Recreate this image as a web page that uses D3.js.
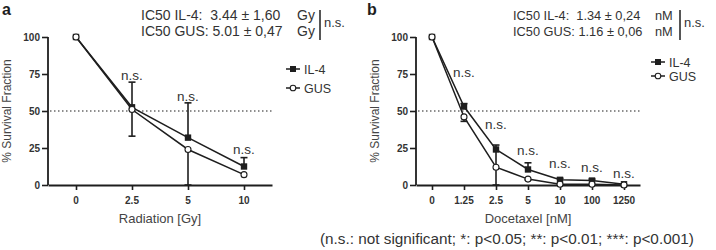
<!DOCTYPE html>
<html><head><meta charset="utf-8">
<script src="https://cdn.jsdelivr.net/npm/d3@7"></script>
<style>body{margin:0;background:#fff}svg{display:block;font-family:"Liberation Sans",Arial,sans-serif}</style>
</head><body><svg id="c" width="716" height="250"></svg>
<script>
// Panel a: radiation
const radLabels = ["0", "2.5", "5", "10"];
const radIL4 = [100, 52.5, 32, 12.5];
const radIL4Up = [0, 17, 23.5, 6];
const radIL4Down = [0, 0, 0, 0];
const radGUS = [100, 51, 24, 7];
const radGUSDown = [0, 18, 24, 0];
const radSig = ["", "n.s.", "n.s.", "n.s."];
const radSigLevel = [0, 71, 57, 21];
const radIC50 = [["IC50 IL-4:  3.44 ± 1,60", "Gy"], ["IC50 GUS: 5.01 ± 0,47", "Gy"]];

// Panel b: docetaxel
const docLabels = ["0", "1.25", "2.5", "5", "10", "100", "1250"];
const docIL4 = [100, 53, 24, 10.5, 3.5, 3, 0.5];
const docIL4Up = [0, 2, 3, 4.5, 1, 1, 0];
const docIL4Down = [0, 0, 24, 0, 0, 0, 0];
const docGUS = [100, 46, 12, 4, 0.5, 0.5, 0];
const docGUSDown = [0, 3, 0, 0.5, 0, 0, 0];
const docSig = ["", "n.s.", "n.s.", "n.s.", "n.s.", "n.s.", "n.s."];
const docSigLevel = [0, 73, 38, 20, 11.5, 9, 5];
const docIC50 = [["IC50 IL-4:  1.34 ± 0,24", "nM"], ["IC50 GUS: 1.16 ± 0,06", "nM"]];

const yTicks = [0, 25, 50, 75, 100];
const seriesNames = ["IL-4", "GUS"];
const footnote = "(n.s.: not significant; *: p<0.05; **: p<0.01; ***: p<0.001)";

const svg = d3.select("#c");
const INK = "#1e1e1e", TXT = "#333";

function txt(g, x, y, s, size, opt = {}) {
  return g.append("text").attr("x", x).attr("y", y)
    .attr("text-anchor", opt.anchor || "start").attr("font-size", size)
    .attr("font-weight", opt.bold ? "bold" : "normal").attr("fill", opt.fill || TXT)
    .style("white-space", "pre").text(s);
}

function panel(cfg) {
  const g = svg.append("g");
  const x = d3.scalePoint().domain(cfg.labels).range([cfg.x0, cfg.x1]).padding(0.5);
  const y = d3.scaleLinear().domain([0, 100]).range([185, 37]);

  const ya = g.append("g").attr("transform", `translate(${cfg.x0},0)`)
    .call(d3.axisLeft(y).tickValues(yTicks).tickSize(6).tickFormat(""));
  const xa = g.append("g").attr("transform", `translate(0,185)`)
    .call(d3.axisBottom(x).tickSize(5).tickSizeOuter(0).tickFormat(""));
  [ya, xa].forEach(a => {
    a.select(".domain").attr("stroke", INK).attr("stroke-width", 1.8);
    a.selectAll(".tick line").attr("stroke", INK).attr("stroke-width", 1.6);
  });
  ya.select(".domain").attr("d", `M0,${y(0)}V${y(100)}`);
  yTicks.forEach(t => txt(g, cfg.x0 - 8, y(t) + 3.5, String(t), 10, {anchor: "end", bold: true}));
  cfg.labels.forEach(l => txt(g, x(l), 204, l, 10, {anchor: "middle", bold: true}));

  g.append("line").attr("x1", cfg.x0 + 2).attr("x2", cfg.x1).attr("y1", y(50)).attr("y2", y(50))
    .attr("stroke", INK).attr("stroke-width", 1.2).attr("stroke-dasharray", "1.5,2.5");

  const series = [
    {name: seriesNames[0], v: cfg.il4, up: cfg.il4Up, down: cfg.il4Down, filled: true},
    {name: seriesNames[1], v: cfg.gus, up: cfg.gus.map(() => 0), down: cfg.gusDown, filled: false}
  ];
  function bar(cx, y1, y2) {
    g.append("line").attr("x1", cx).attr("x2", cx).attr("y1", y1).attr("y2", y2)
      .attr("stroke", INK).attr("stroke-width", 1.6);
    g.append("line").attr("x1", cx - 3.5).attr("x2", cx + 3.5).attr("y1", y2).attr("y2", y2)
      .attr("stroke", INK).attr("stroke-width", 1.6);
  }
  series.forEach(s => s.v.forEach((v, i) => {
    const cx = x(cfg.labels[i]);
    if (s.up[i]) bar(cx, y(v), y(Math.min(100, v + s.up[i])));
    if (s.down[i]) bar(cx, y(v), y(Math.max(0, v - s.down[i])));
  }));
  const line = d3.line().x((d, i) => x(cfg.labels[i])).y(d => y(d));
  series.forEach(s => g.append("path").attr("d", line(s.v)).attr("fill", "none")
    .attr("stroke", INK).attr("stroke-width", 1.5));
  series.forEach(s => s.v.forEach((v, i) => {
    const cx = x(cfg.labels[i]), cy = y(v);
    if (s.filled) g.append("rect").attr("x", cx - 3.2).attr("y", cy - 3.2).attr("width", 6.4).attr("height", 6.4).attr("fill", INK);
    else g.append("circle").attr("cx", cx).attr("cy", cy).attr("r", 3).attr("fill", "#fff").attr("stroke", INK).attr("stroke-width", 1.1);
  }));
  cfg.sig.forEach((t, i) => { if (t) txt(g, x(cfg.labels[i]), y(cfg.sigLevel[i]), t, 13.5, {anchor: "middle"}); });

  txt(g, (cfg.x0 + cfg.x1) / 2, 223, cfg.xTitle, 13, {anchor: "middle", fill: "#444"});
  g.append("text").attr("transform", `translate(${cfg.x0 - 37},111) rotate(-90)`)
    .attr("text-anchor", "middle").attr("font-size", 12).attr("fill", "#444").text("% Survival Fraction");
  txt(g, cfg.letterX, 15, cfg.letter, 16, {bold: true, fill: INK});

  cfg.ic50.forEach((parts, i) => {
    const yy = 20 + i * 16;
    txt(g, cfg.icX, yy, parts[0], cfg.icFont);
    txt(g, cfg.unitX, yy, parts[1], cfg.icFont);
  });
  g.append("line").attr("x1", cfg.barX).attr("x2", cfg.barX).attr("y1", 10).attr("y2", 40)
    .attr("stroke", INK).attr("stroke-width", 1.5);
  txt(g, cfg.barX + 4, 27, "n.s.", 13);

  series.forEach((s, i) => {
    const ly = cfg.legY[i];
    g.append("line").attr("x1", cfg.legX).attr("x2", cfg.legX + 14).attr("y1", ly).attr("y2", ly)
      .attr("stroke", INK).attr("stroke-width", 1.5);
    const mx = cfg.legX + 7;
    if (s.filled) g.append("rect").attr("x", mx - 3).attr("y", ly - 3).attr("width", 6).attr("height", 6).attr("fill", INK);
    else g.append("circle").attr("cx", mx).attr("cy", ly).attr("r", 2.8).attr("fill", "#fff").attr("stroke", INK).attr("stroke-width", 1.1);
    txt(g, cfg.legX + 18, ly + 4.5, s.name, 12.5);
  });
}

panel({labels: radLabels, il4: radIL4, il4Up: radIL4Up, il4Down: radIL4Down, gus: radGUS, gusDown: radGUSDown,
  sig: radSig, sigLevel: radSigLevel, ic50: radIC50, x0: 48, x1: 272, xTitle: "Radiation [Gy]",
  letter: "a", letterX: 2, icX: 141, unitX: 297, icFont: 14, barX: 320, legX: 286, legY: [69, 88]});
panel({labels: docLabels, il4: docIL4, il4Up: docIL4Up, il4Down: docIL4Down, gus: docGUS, gusDown: docGUSDown,
  sig: docSig, sigLevel: docSigLevel, ic50: docIC50, x0: 416, x1: 640, xTitle: "Docetaxel [nM]",
  letter: "b", letterX: 367, icX: 513, unitX: 655, icFont: 12.8, barX: 680, legX: 651, legY: [62, 76]});

txt(svg, 320, 244, footnote, 15.3);
</script></body></html>
